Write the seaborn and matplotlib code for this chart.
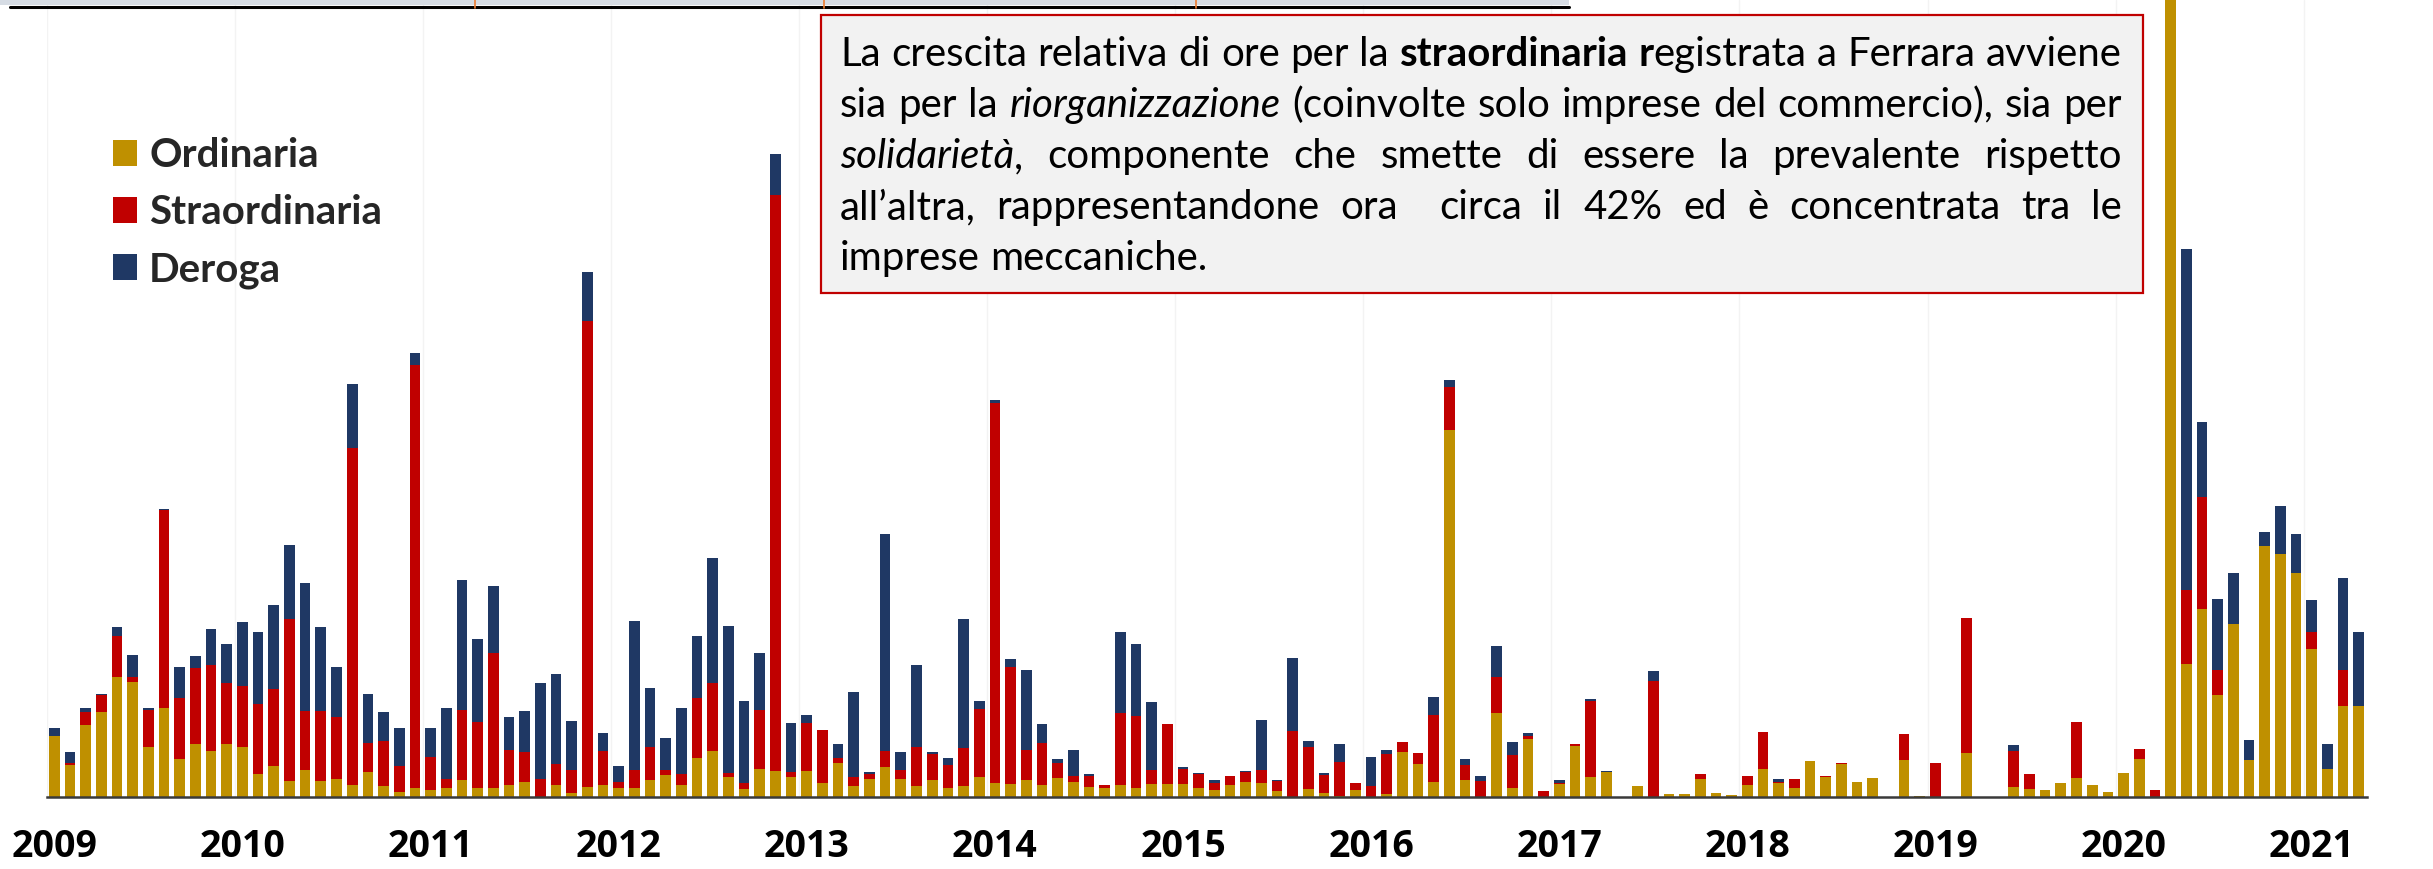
import numpy as np
import pandas as pd
import matplotlib
matplotlib.use("Agg")
import matplotlib.pyplot as plt
import seaborn as sns
from matplotlib.patches import Patch, Rectangle
from matplotlib.lines import Line2D
from matplotlib.font_manager import FontProperties
from matplotlib.transforms import blended_transform_factory

# ore autorizzate per mese (scala relativa), gen 2009 - apr 2021
ordinaria = [
    142, 75, 167, 198, 280, 268, 116, 207, 88, 122, 107, 124,      # 2009
    117, 54, 71, 37, 63, 37, 42, 29, 59, 26, 12, 22,               # 2010
    17, 20, 40, 20, 22, 27, 34, 1, 29, 10, 24, 28,                 # 2011
    20, 20, 40, 52, 27, 90, 107, 47, 18, 64, 60, 47,               # 2012
    60, 32, 80, 25, 42, 70, 42, 26, 40, 20, 26, 46,                # 2013
    32, 30, 40, 28, 43, 36, 23, 22, 28, 20, 30, 30,                # 2014
    30, 22, 17, 28, 35, 33, 15, 0, 18, 9, 2, 17,                   # 2015
    0, 7, 105, 77, 34, 852, 40, 0, 196, 21, 135, 0,                # 2016
    30, 118, 47, 59, 0, 25, 0, 8, 6, 42, 10, 4,                    # 2017
    28, 65, 33, 21, 84, 47, 77, 35, 43, 0, 85, 3,                  # 2018
    0, 0, 102, 0, 1, 23, 18, 17, 32, 45, 28, 11,                   # 2019
    56, 88, 0, 2600, 310, 437, 236, 402, 85, 584, 565, 521,        # 2020
    344, 64, 212, 212,                                             # 2021
]
straordinaria = [
    0, 5, 30, 39, 94, 12, 86, 459, 142, 178, 199, 140,
    140, 162, 181, 376, 137, 162, 143, 781, 66, 104, 61, 981,
    75, 22, 162, 154, 312, 83, 71, 40, 47, 52, 1081, 79,
    16, 42, 76, 10, 27, 139, 158, 9, 15, 138, 1340, 11,
    112, 123, 10, 22, 12, 38, 20, 91, 61, 54, 89, 158,
    883, 271, 70, 98, 36, 12, 25, 5, 167, 168, 33, 140,
    34, 31, 16, 21, 22, 29, 22, 153, 99, 41, 80, 15,
    25, 92, 22, 26, 156, 101, 35, 37, 82, 77, 7, 15,
    2, 6, 175, 0, 0, 0, 269, 0, 0, 11, 0, 1,
    21, 85, 3, 20, 0, 1, 3, 0, 0, 0, 62, 0,
    79, 0, 315, 0, 0, 85, 35, 0, 0, 129, 0, 0,
    0, 23, 17, 0, 170, 259, 60, 0, 0, 0, 0, 0,
    39, 0, 84, 0,
]
deroga = [
    19, 24, 10, 3, 21, 50, 4, 4, 72, 28, 84, 92,
    150, 167, 193, 173, 298, 195, 118, 150, 115, 67, 88, 29,
    68, 164, 303, 193, 157, 77, 95, 225, 209, 115, 115, 41,
    36, 348, 138, 75, 152, 145, 290, 342, 191, 132, 95, 114,
    19, 0, 32, 197, 5, 502, 43, 189, 4, 16, 298, 18,
    7, 20, 186, 44, 10, 62, 6, 0, 189, 168, 157, 0,
    6, 2, 6, 0, 3, 116, 3, 169, 14, 6, 40, 0,
    67, 11, 0, 0, 43, 16, 14, 12, 73, 29, 6, 0,
    8, 0, 6, 1, 0, 0, 23, 0, 0, 0, 0, 0,
    0, 0, 5, 0, 0, 0, 0, 0, 0, 0, 0, 0,
    0, 0, 0, 0, 0, 12, 0, 0, 0, 0, 0, 0,
    0, 0, 0, 0, 794, 176, 164, 119, 47, 32, 111, 91,
    75, 60, 212, 172,
]
anni = [str(a) for a in range(2009, 2022)]
mesi = [f"{a}-{m:02d}" for a in anni for m in range(1, 13)][:len(ordinaria)]
serie = ["Ordinaria", "Straordinaria", "Deroga"]
colori = ["#bf9000", "#c00000", "#1f3864"]

df = pd.DataFrame({"mese": mesi, "ord": ordinaria, "str": straordinaria, "der": deroga})
df["ord_str"] = df["ord"] + df["str"]
df["tot"] = df["ord_str"] + df["der"]

W, H = 2433, 869
sns.set_style("white")
plt.rcParams["font.family"] = ["Lato", "DejaVu Sans"]

fig = plt.figure(figsize=(W / 100, H / 100), dpi=100)
ax = fig.add_axes([46.5 / W, 72 / H, 2320 / W, 797 / H])

# barre impilate: totale sotto, poi ord+str, poi ordinaria
for col, c in zip(["tot", "ord_str", "ord"], colori[::-1]):
    sns.barplot(data=df, x="mese", y=col, order=mesi, color=c, saturation=1,
                width=0.68, errorbar=None, linewidth=0, ax=ax)

ax.set_xlim(-0.5, len(mesi) - 0.5)
ax.set_ylim(0, 1852)
ax.set_xlabel("")
ax.set_ylabel("")
ax.set_yticks([])
ax.set_xticks([12 * k - 0.5 for k in range(len(anni))])
ax.set_xticklabels([])
ax.tick_params(axis="x", length=10, width=1.3, color="#404040", direction="out")
ax.grid(axis="x", color="#f3f3f3", linewidth=1)
ax.set_axisbelow(True)
for s in ["top", "right", "left"]:
    ax.spines[s].set_visible(False)
ax.spines["bottom"].set_color("#3a3a3a")
ax.spines["bottom"].set_linewidth(1.8)

# etichette anni sotto gennaio
trans = blended_transform_factory(ax.transData, ax.transAxes)
for k, a in enumerate(anni):
    ax.text(12 * k, -60 / 797, a, transform=trans, ha="center", va="baseline",
            fontsize=27, fontweight="bold", family="Open Sans", color="black")

# legenda
handles = [Patch(facecolor=c, edgecolor="none", label=l) for l, c in zip(serie, colori)]
fig.legend(handles=handles, loc="upper left", bbox_to_anchor=(113 / W, 1 - 137 / H),
           frameon=False, prop=FontProperties(family="Lato", weight="bold", size=29),
           handlelength=0.6, handleheight=0.6, handletextpad=0.3, labelspacing=0.5,
           borderpad=0, borderaxespad=0)

# decorazione in alto a sinistra
fig.patches.append(Rectangle((0, 1 - 5 / H), 1569 / W, 5 / H, transform=fig.transFigure,
                             facecolor="#d6dce4", edgecolor="none", zorder=3))
fig.lines.append(Line2D([10 / W, 1569 / W], [1 - 6.5 / H, 1 - 6.5 / H], transform=fig.transFigure,
                        color="black", linewidth=2.2, zorder=4))
for xo in [475, 824, 1196]:
    fig.lines.append(Line2D([xo / W, xo / W], [1, 1 - 8 / H], transform=fig.transFigure,
                            color="#ed7d31", linewidth=1.2, zorder=4))

# riquadro di commento
bl, bt, br, bb = 821, 15, 2143, 293
fig.patches.append(Rectangle((bl / W, 1 - bb / H), (br - bl) / W, (bb - bt) / H,
                             transform=fig.transFigure, facecolor="#f2f2f2",
                             edgecolor="#c00000", linewidth=1.6, zorder=5))

N, B, I = ("normal", "normal"), ("bold", "normal"), ("normal", "italic")


def parole(testo, stile=N):
    return [[(p, *stile)] for p in testo.split(" ")]


righe = [
    parole("La crescita relativa di ore per la") + [[("straordinaria", *B)], [("r", *B), ("egistrata", *N)]]
    + parole("a Ferrara avviene"),
    parole("sia per la") + [[("riorganizzazione", *I)]]
    + parole("(coinvolte solo imprese del commercio), sia per"),
    [[("solidarietà", *I), (",", *N)]] + parole("componente che smette di essere la prevalente rispetto"),
    parole("all’altra, rappresentandone ora  circa il 42% ed è concentrata tra le"),
    parole("imprese meccaniche."),
]
baseline = [66, 117, 168, 219, 270]
tx0, tx1 = 840, 2122

renderer = fig.canvas.get_renderer()


def larghezza(txt, peso, stile, size):
    if txt == "":
        return 0.0
    t = fig.text(0, 0, txt, fontsize=size, fontweight=peso, fontstyle=stile)
    w = t.get_window_extent(renderer).width
    t.remove()
    return w


def spazio(size):
    return larghezza("a a", "normal", "normal", size) - larghezza("aa", "normal", "normal", size)


def larghezze(riga, size):
    return [sum(larghezza(t, p, s, size) for t, p, s in w) for w in riga]


base = 20
nat = sum(larghezze(righe[0], base)) + (len(righe[0]) - 1) * spazio(base)
fs = base * (tx1 - tx0) / nat

for k, (riga, yb) in enumerate(zip(righe, baseline)):
    ws = larghezze(riga, fs)
    if k < len(righe) - 1:
        gap = (tx1 - tx0 - sum(ws)) / (len(riga) - 1)
    else:
        gap = spazio(fs)
    x = tx0
    for parola, w in zip(riga, ws):
        xx = x
        for t, p, s in parola:
            if t:
                fig.text(xx / W, 1 - yb / H, t, fontsize=fs, fontweight=p, fontstyle=s,
                         va="baseline", ha="left", color="black", zorder=6)
                xx += larghezza(t, p, s, fs)
        x += w + gap

fig.savefig("out.png", dpi=100)
